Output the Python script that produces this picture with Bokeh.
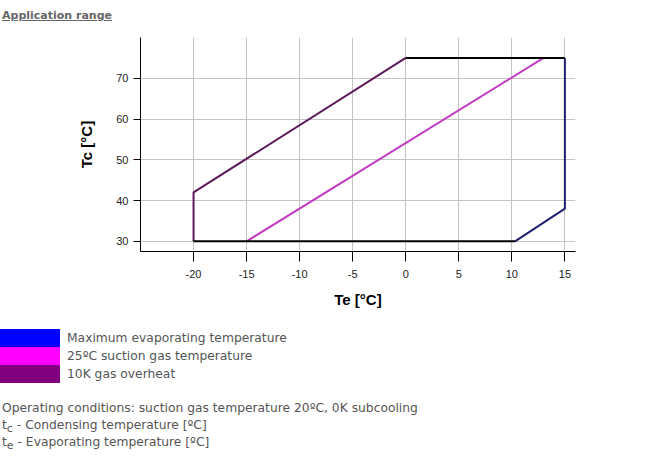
from bokeh.plotting import figure
from bokeh.models import Range1d, FixedTicker, Div
from bokeh.layouts import column
from bokeh.embed import file_html
from bokeh.resources import INLINE

# ---- data ----
title_text = "Application range"
x_label = "Te [°C]"
y_label = "Tc [°C]"
x_ticks = [-20, -15, -10, -5, 0, 5, 10, 15]
y_ticks = [30, 40, 50, 60, 70]

overheat_te = [-20, -20, 0]          # 10K gas overheat
overheat_tc = [30, 42, 75]
suction_te = [-15, 13]               # 25ºC suction gas temperature
suction_tc = [30, 75]
maxevap_te = [15, 15, 10.3]          # Maximum evaporating temperature
maxevap_tc = [75, 38, 30]
top_te = [0, 15]                     # common upper limit
top_tc = [75, 75]
bottom_te = [-20, 10.3]              # common lower limit
bottom_tc = [30, 30]

legend_labels = ["Maximum evaporating temperature", "25ºC suction gas temperature", "10K gas overheat"]
legend_colors = ["#0000ff", "#ff00ff", "#800080"]
notes = ["Operating conditions: suction gas temperature 20ºC, 0K subcooling",
         ("t", "c", " - Condensing temperature [ºC]"),
         ("t", "e", " - Evaporating temperature [ºC]")]

TXT = "#555555"
W = 652

# ---- title ----
title_div = Div(
    text=(f'<div style="position:relative;width:{W}px;height:28px;">'
          f'<span style="position:absolute;left:2px;top:8px;line-height:16px;font-family:\'DejaVu Sans\';'
          f'font-size:11px;font-weight:bold;color:#666666;text-decoration:underline;">{title_text}</span></div>'),
    width=W, height=28, margin=(0, 0, 0, 0))

# ---- chart ----
p = figure(width=W, height=290, output_backend="svg", toolbar_location=None,
           x_range=Range1d(-25, 16), y_range=Range1d(27.5, 80),
           min_border_left=140, min_border_right=77, min_border_top=9, min_border_bottom=67,
           background_fill_color="white", border_fill_color="white", margin=(0, 0, 0, 0))
p.outline_line_color = None

p.xaxis.ticker = FixedTicker(ticks=x_ticks)
p.yaxis.ticker = FixedTicker(ticks=y_ticks)
p.xaxis.major_label_overrides = {t: str(t) for t in x_ticks}
p.yaxis.major_label_overrides = {t: str(t) for t in y_ticks}
for ax in (p.xaxis, p.yaxis):
    ax.axis_line_color = "black"
    ax.axis_line_width = 1
    ax.major_tick_line_color = "black"
    ax.minor_tick_line_color = None
    ax.major_tick_in = 0
    ax.major_label_text_font = "Liberation Sans"
    ax.major_label_text_font_size = "11px"
    ax.major_label_text_color = "#222222"
    ax.axis_label_text_font = "Liberation Sans"
    ax.axis_label_text_font_size = "15px"
    ax.axis_label_text_font_style = "bold"
    ax.axis_label_text_color = "black"
p.xaxis.major_tick_out = 10
p.yaxis.major_tick_out = 7
p.xaxis.major_label_standoff = 8
p.yaxis.major_label_standoff = 5
p.xaxis.axis_label = x_label
p.yaxis.axis_label = y_label
p.xaxis.axis_label_standoff = 10
p.yaxis.axis_label_standoff = 18

p.xgrid.grid_line_color = "#c4c4c4"
p.ygrid.grid_line_color = "#c4c4c4"

p.line(overheat_te, overheat_tc, line_color="#5c1a5c", line_width=2)
p.line(suction_te, suction_tc, line_color="#c23bc2", line_width=2)
p.line(maxevap_te, maxevap_tc, line_color="#20206e", line_width=2)
p.line(top_te, top_tc, line_color="black", line_width=2)
p.line(bottom_te, bottom_tc, line_color="black", line_width=2)

# ---- legend / notes ----
parts = [f'<div style="position:relative;width:{W}px;height:140px;font-family:\'DejaVu Sans\';font-size:12.3px;color:{TXT};">']
for i, (lab, col) in enumerate(zip(legend_labels, legend_colors)):
    top = 11 + 18 * i
    parts.append(f'<div style="position:absolute;left:0px;top:{top}px;width:60px;height:18px;background:{col};"></div>')
    parts.append(f'<span style="position:absolute;left:67px;top:{top + 1}px;line-height:16px;white-space:nowrap;">{lab}</span>')
for i, n in enumerate(notes):
    top = 82 + 17 * i
    if isinstance(n, tuple):
        body = f'{n[0]}<sub style="font-size:11px;">{n[1]}</sub>{n[2]}'
    else:
        body = n
    parts.append(f'<span style="position:absolute;left:2px;top:{top}px;line-height:16px;white-space:nowrap;">{body}</span>')
parts.append('</div>')
legend_div = Div(text="".join(parts), width=W, height=140, margin=(0, 0, 0, 0))

layout = column(title_div, p, legend_div, spacing=0)

open("out.html", "w").write(file_html(layout, INLINE))
